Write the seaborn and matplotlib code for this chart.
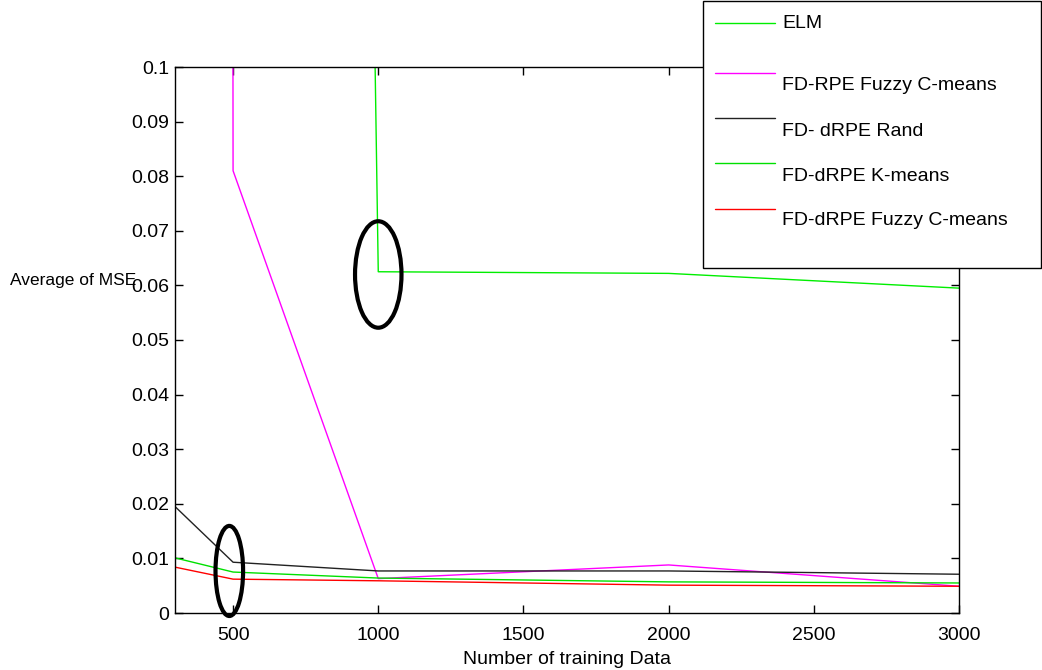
import numpy as np
import pandas as pd
import matplotlib
matplotlib.use("Agg")
import matplotlib.pyplot as plt
import seaborn as sns
from matplotlib.patches import Ellipse, Rectangle
from matplotlib.lines import Line2D

sns.set_style("ticks")
plt.rcParams['font.family'] = ['Liberation Sans', 'DejaVu Sans']
plt.rcParams['text.color'] = 'black'
plt.rcParams['axes.labelcolor'] = 'black'

# data
train_sizes = [300, 500, 1000, 2000, 3000]
elm = [3.0, 1.8, 0.0625, 0.0622, 0.0595]
fd_rpe_fcm = [10.0, 0.081, 0.0063, 0.0088, 0.0049]
fd_drpe_rand = [0.0195, 0.0093, 0.0077, 0.0077, 0.0071]
fd_drpe_kmeans = [0.0101, 0.0075, 0.0064, 0.0057, 0.0055]
fd_drpe_fcm = [0.0084, 0.0062, 0.0059, 0.0051, 0.0049]

labels = ["ELM", "FD-RPE Fuzzy C-means", "FD- dRPE Rand",
          "FD-dRPE K-means", "FD-dRPE Fuzzy C-means"]
colors = ["#00ee00", "#ff00ff", "#222222", "#00e000", "#ff0000"]
series = [elm, fd_rpe_fcm, fd_drpe_rand, fd_drpe_kmeans, fd_drpe_fcm]

df = pd.DataFrame({
    "n": train_sizes * len(series),
    "mse": np.concatenate(series),
    "method": np.repeat(labels, len(train_sizes)),
})

W, H = 1042, 670
fig = plt.figure(figsize=(W / 100, H / 100), dpi=100)
ax = fig.add_axes([175 / W, (H - 613) / H, (959 - 175) / W, (613 - 67) / H])

sns.lineplot(data=df, x="n", y="mse", hue="method", hue_order=labels,
             palette=colors, linewidth=1, legend=False, ax=ax, sort=False)

ax.set_xlim(300, 3000)
ax.set_ylim(0, 0.1)
ax.set_xticks([500, 1000, 1500, 2000, 2500, 3000])
ax.set_yticks(np.round(np.arange(0, 0.101, 0.01), 2))
ax.set_yticklabels(["0", "0.01", "0.02", "0.03", "0.04", "0.05",
                    "0.06", "0.07", "0.08", "0.09", "0.1"])
ax.tick_params(direction="in", length=6, width=1, top=True, right=True,
               labelsize=14, colors="black")
ax.tick_params(axis="x", pad=10)
ax.tick_params(axis="y", pad=4)
for s in ax.spines.values():
    s.set_visible(True)
    s.set_color("black")
    s.set_linewidth(1)

ax.set_xlabel("Number of training Data", fontsize=14, labelpad=5)
ax.set_ylabel("")
fig.text(10 / W, 1 - 280 / H, "Average of MSE", fontsize=12.5,
         ha="left", va="center", zorder=1)

# highlight ellipses
ax.add_patch(Ellipse((1000, 0.062), 160, 0.0195, fill=False,
                     edgecolor="black", linewidth=3, zorder=5))
ax.add_patch(Ellipse((487, 0.0077), 95, 0.0165, fill=False,
                     edgecolor="black", linewidth=3, zorder=5, clip_on=False))

# legend box drawn like the original
fig.add_artist(Rectangle((703 / W, 1 - 268 / H), (1041 - 703) / W, 267 / H,
                         transform=fig.transFigure, facecolor="white",
                         edgecolor="black", linewidth=1, zorder=10))
line_y = [23, 73, 118, 163, 209]
text_y = [23, 86, 131, 176, 220]
for lab, c, ly, ty in zip(labels, colors, line_y, text_y):
    fig.add_artist(Line2D([715 / W, 775 / W], [1 - ly / H, 1 - ly / H],
                          transform=fig.transFigure, color=c, linewidth=1,
                          zorder=11))
    fig.text(782 / W, 1 - ty / H, lab, fontsize=14, ha="left", va="center",
             zorder=12)

fig.savefig("out.png", dpi=100)
